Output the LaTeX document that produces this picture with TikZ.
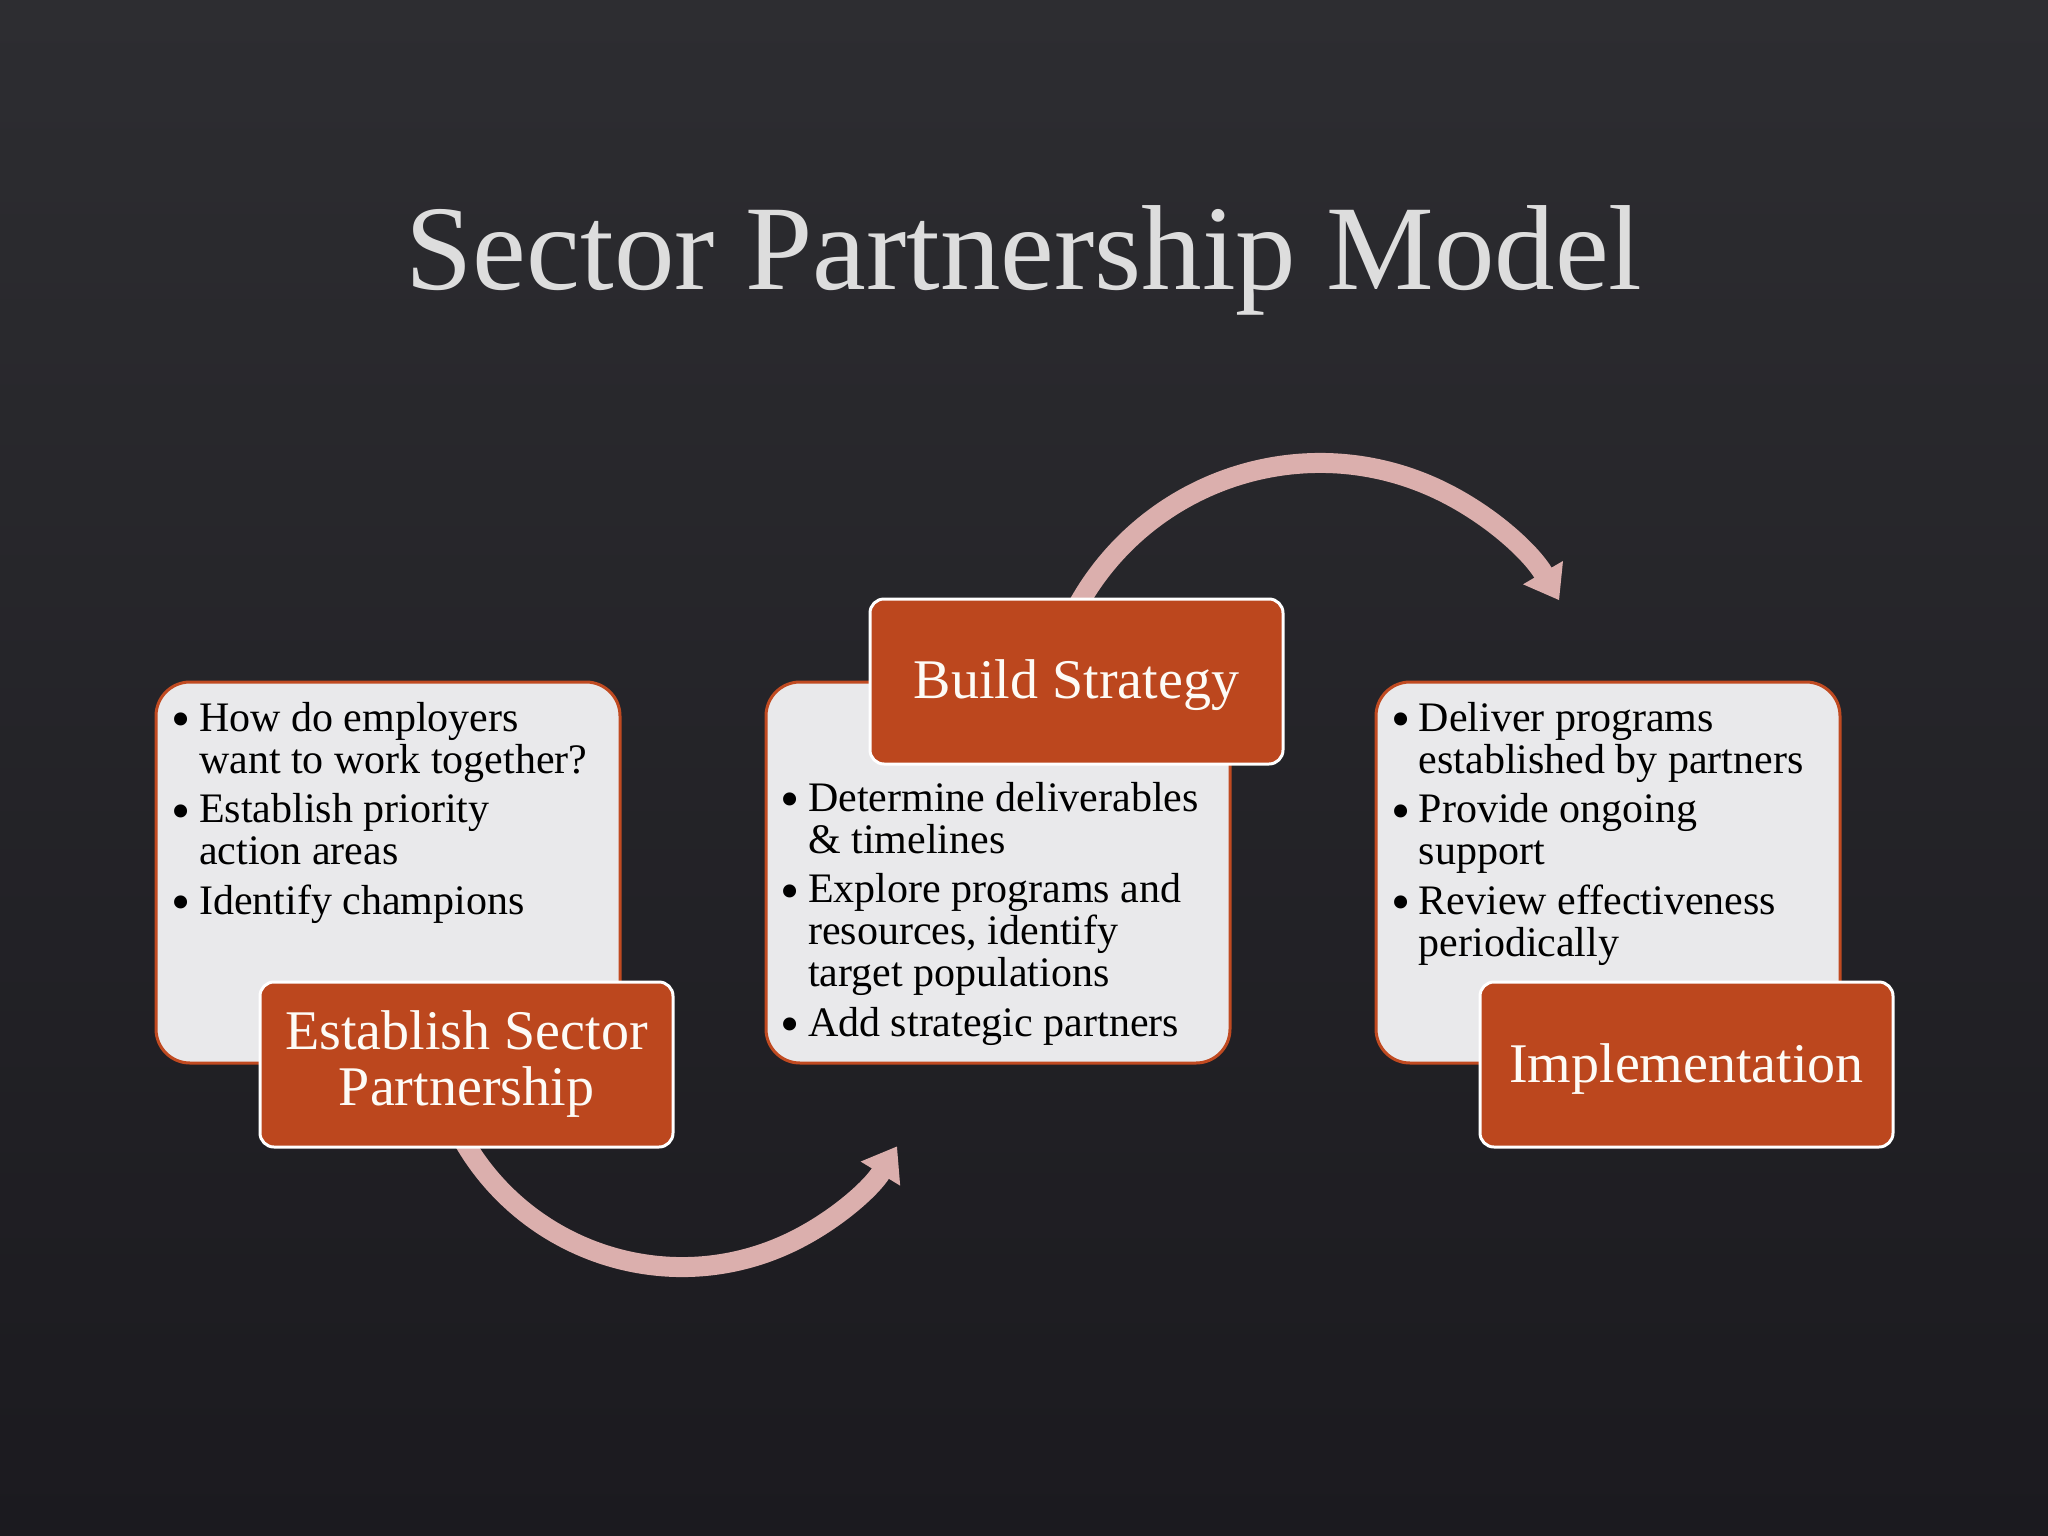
\documentclass[tikz,border=0pt]{standalone}
\usepackage{fontspec}
\setmainfont{Liberation Serif}
\usetikzlibrary{arrows.meta}
\definecolor{bgtop}{RGB}{45,45,49}
\definecolor{bgbot}{RGB}{27,26,31}
\definecolor{lightfill}{RGB}{233,233,235}
\definecolor{boxedge}{RGB}{192,74,33}
\definecolor{orangefill}{RGB}{188,71,30}
\definecolor{flowpink}{RGB}{219,175,173}
\definecolor{titlegray}{RGB}{221,221,221}
\definecolor{capwhite}{RGB}{253,251,246}
\tikzset{
  panel/.style={draw=boxedge, line width=3pt, fill=lightfill, rounded corners=34pt,
    minimum width=464pt, minimum height=381pt, inner sep=0pt},
  stage/.style={draw=white, line width=3pt, fill=orangefill, rounded corners=14pt,
    minimum width=413pt, minimum height=165pt, inner sep=0pt, text=capwhite,
    font=\fontsize{56}{56}\selectfont, align=center},
  bullets/.style={anchor=base west, inner sep=0pt, font=\fontsize{42}{42}\selectfont, text=black},
  flow/.style={draw=flowpink, line width=20pt, -{Triangle[length=32pt,width=44pt]}},
}
\newcommand\bul{\makebox[27.6pt][l]{\raisebox{-6.5pt}{\scalebox{1.3}{\textbullet}}}}
\begin{document}
\begin{tikzpicture}[x=1pt,y=1pt]
\useasboundingbox (0,0) rectangle (2048,-1536);
\shade[top color=bgtop, bottom color=bgbot] (0,0) rectangle (2048,-1536);

\node[anchor=base, text=titlegray, font=\fontsize{121}{121}\selectfont, inner sep=0pt] (title) at (1024,-289) {Sector Partnership Model};

% curved flow arrows
\coordinate (a1s) at (453.6,-1121.5);
\coordinate (a2s) at (1068.95,-622.94);
\draw[flow] (a1s) arc[start angle=205, end angle=328.6, radius=252pt];
\draw[flow] (a2s) arc[start angle=155, end angle=30.3, radius=277pt];

% light panels
\node[panel] (p1) at (388,-872.5) {};
\node[panel] (p2) at (998,-872.5) {};
\node[panel] (p3) at (1608,-872.5) {};

% bullet texts
\node[bullets] (t1) at (171.4,-731) {\begin{tabular}[t]{@{}l@{}l@{}}
\bul & How do employers\\
 & want to work together?\\[7.5pt]
\bul & Establish priority\\
 & action areas\\[7.5pt]
\bul & Identify champions
\end{tabular}};

\node[bullets] (t2) at (780.4,-811) {\begin{tabular}[t]{@{}l@{}l@{}}
\bul & Determine deliverables\\
 & \& timelines\\[7.5pt]
\bul & Explore programs and\\
 & resources, identify\\
 & target populations\\[7.5pt]
\bul & Add strategic partners
\end{tabular}};

\node[bullets] (t3) at (1390.9,-731) {\begin{tabular}[t]{@{}l@{}l@{}}
\bul & Deliver programs\\
 & established by partners\\[7.5pt]
\bul & Provide ongoing\\
 & support\\[7.5pt]
\bul & Review effectiveness\\
 & periodically
\end{tabular}};

% orange stage boxes
\node[stage] (s1) at (466.5,-1064.5) {\raisebox{-3pt}{Establish Sector}\\\raisebox{-3pt}{Partnership}};
\node[stage, text height=42pt, text depth=8pt] (s2) at (1076.5,-681.5) {Build Strategy};
\node[stage, text height=43pt, text depth=7pt] (s3) at (1686.5,-1064.5) {Implementation};
\end{tikzpicture}
\end{document}
